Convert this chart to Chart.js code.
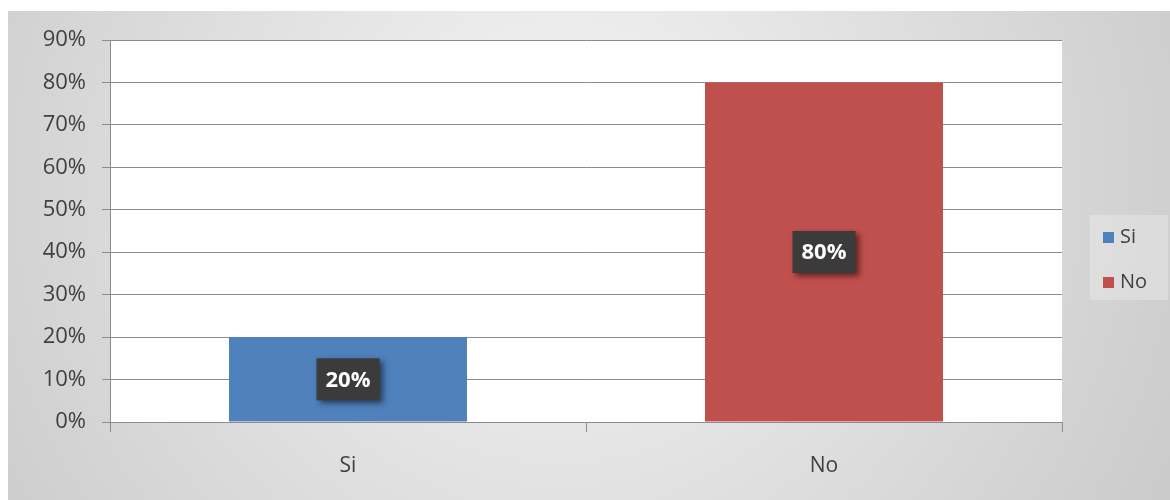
<!DOCTYPE html>
<html>
<head>
<meta charset="utf-8">
<script src="https://cdn.jsdelivr.net/npm/chart.js@4/dist/chart.umd.min.js"></script>
<style>
  html, body { margin: 0; padding: 0; background: #fff; }
  #wrap { width: 1170px; height: 500px; }
</style>
</head>
<body>
<div id="wrap"><canvas id="barChart" width="1170" height="500"></canvas></div>
<script>
var CATEGORIES = ["Si", "No"],
    VALUES = [20, 80],
    COLORS = ["#4F81BD", "#C0504D"],
    Y_TICKS = [0, 10, 20, 30, 40, 50, 60, 70, 80, 90];

var FONT = "'Open Sans', 'Noto Sans', sans-serif";

// grey panel behind everything + white plot area
var backdrop = {
    id: 'backdrop',
    beforeDraw: function(chart) {
        var c = chart.ctx, a = chart.chartArea;
        c.save();
        c.fillStyle = "#ffffff";
        c.fillRect(0, 0, chart.width, chart.height);
        var g = c.createRadialGradient(560, 180, 40, 560, 180, 760);
        g.addColorStop(0, "#f3f3f3");
        g.addColorStop(1, "#c6c6c6");
        c.fillStyle = g;
        c.fillRect(8, 11, chart.width - 8, chart.height - 11);
        c.fillStyle = "#ffffff";
        c.fillRect(a.left, a.top, a.right - a.left, a.bottom - a.top);
        c.restore();
    }
};

// dark value tags in the middle of each bar
var valueTags = {
    id: 'valueTags',
    afterDatasetsDraw: function(chart) {
        var c = chart.ctx;
        var meta = chart.getDatasetMeta(0);
        meta.data.forEach(function(bar, i) {
            var txt = VALUES[i] + "%";
            var cx = bar.x, cy = (bar.y + bar.base) / 2;
            var w = 63, h = 42;
            c.save();
            c.shadowColor = "rgba(0,0,0,0.55)";
            c.shadowBlur = 6;
            c.shadowOffsetX = 3;
            c.shadowOffsetY = 3;
            c.fillStyle = "#3b3b3b";
            c.fillRect(cx - w / 2, cy - h / 2, w, h);
            c.restore();
            c.save();
            c.fillStyle = "#ffffff";
            c.font = "bold 22px " + FONT;
            c.textAlign = "center";
            c.textBaseline = "middle";
            c.fillText(txt, cx, cy + 1);
            c.restore();
        });
    }
};

// legend panel on the right
var sideLegend = {
    id: 'sideLegend',
    afterDraw: function(chart) {
        var c = chart.ctx;
        c.save();
        c.fillStyle = "rgba(255,255,255,0.25)";
        c.fillRect(1090, 215, 78, 85);
        c.font = "20px " + FONT;
        c.textBaseline = "middle";
        CATEGORIES.forEach(function(lbl, i) {
            var y = 237 + i * 45;
            c.fillStyle = COLORS[i];
            c.fillRect(1103, y - 5, 11, 11);
            c.fillStyle = "#404040";
            c.fillText(lbl, 1120, y);
        });
        c.restore();
    }
};

var ctx = document.getElementById("barChart").getContext("2d");
var barChart = new Chart(ctx, {
    type: 'bar',
    data: {
        labels: CATEGORIES,
        datasets: [{
            label: "Respuestas",
            data: VALUES,
            backgroundColor: COLORS,
            borderWidth: 0,
            barPercentage: 0.5,
            categoryPercentage: 1.0
        }]
    },
    options: {
        responsive: false,
        animation: false,
        layout: { padding: { left: 0, right: 108, top: 40, bottom: 0 } },
        plugins: {
            legend: { display: false },
            tooltip: { enabled: false }
        },
        scales: {
            x: {
                afterFit: function(s) { s.height = 78; },
                grid: {
                    offset: true,
                    drawOnChartArea: false,
                    drawTicks: true,
                    tickLength: 10,
                    color: "#8c8c8c"
                },
                border: { color: "#8c8c8c" },
                ticks: {
                    padding: 21,
                    color: "#404040",
                    font: { family: FONT, size: 21 }
                }
            },
            y: {
                min: 0,
                max: Y_TICKS[Y_TICKS.length - 1],
                afterFit: function(s) { s.width = 110; },
                afterBuildTicks: function(s) {
                    s.ticks = Y_TICKS.map(function(v) { return { value: v }; });
                },
                grid: {
                    color: "#8c8c8c",
                    tickLength: 8
                },
                border: { color: "#8c8c8c" },
                ticks: {
                    padding: 16,
                    color: "#404040",
                    font: { family: FONT, size: 22 },
                    callback: function(v) { return v + "%"; }
                }
            }
        }
    },
    plugins: [backdrop, valueTags, sideLegend]
});
</script>
</body>
</html>
